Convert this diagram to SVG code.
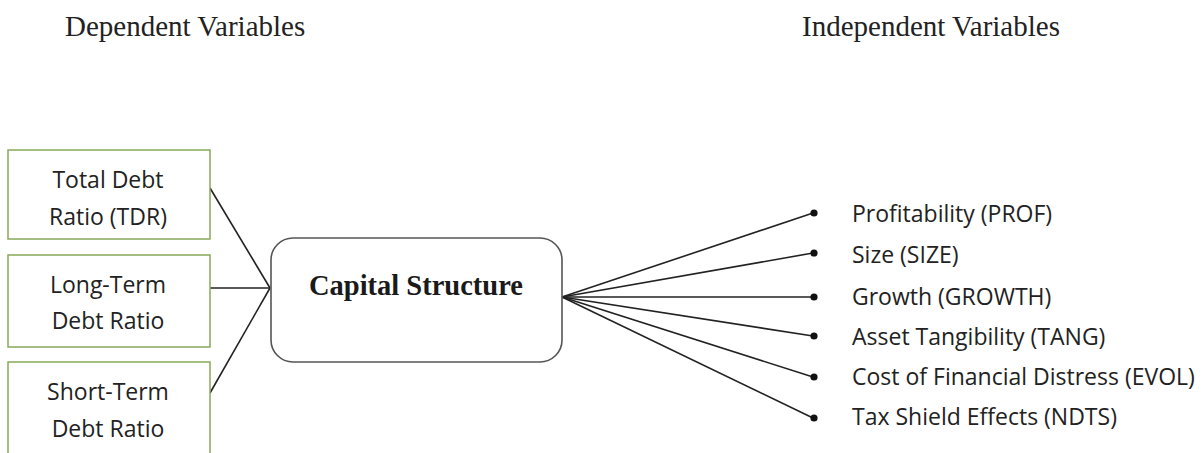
<svg xmlns="http://www.w3.org/2000/svg" width="1204" height="453" viewBox="0 0 1204 453">
<style>
.hdr{font-family:"Liberation Serif",serif;font-size:29px;fill:#222}
.box{fill:#fff;stroke:#86A95A;stroke-width:1.5}
.bt{font-family:"Open Sans","Noto Sans",sans-serif;font-size:23px;fill:#222;text-anchor:middle}
.lbl{font-family:"Open Sans","Noto Sans",sans-serif;font-size:23px;fill:#222}
.cs{fill:#fff;stroke:#555;stroke-width:1.6}
.cst{font-family:"Liberation Serif",serif;font-weight:bold;font-size:28.5px;fill:#1a1a1a;text-anchor:middle}
.ln{stroke:#222;stroke-width:1.6;fill:none}
.dot{fill:#111}
</style>
<rect width="1204" height="453" fill="#fff"/>
<text class="hdr" x="65" y="36">Dependent Variables</text>
<text class="hdr" x="802" y="36">Independent Variables</text>
<g id="connectors">
<line class="ln" x1="210" y1="188" x2="270" y2="288"/>
<line class="ln" x1="210" y1="288" x2="270" y2="288"/>
<line class="ln" x1="210" y1="393" x2="270" y2="288"/>
<line class="ln" x1="562" y1="297" x2="813" y2="213"/>
<line class="ln" x1="562" y1="297" x2="813" y2="253"/>
<line class="ln" x1="562" y1="297" x2="813" y2="297"/>
<line class="ln" x1="562" y1="297" x2="813" y2="336"/>
<line class="ln" x1="562" y1="297" x2="813" y2="377"/>
<line class="ln" x1="562" y1="297" x2="813" y2="418"/>
</g>
<g id="tdr"><rect class="box" x="8" y="150" width="202" height="89"/><text class="bt" x="108" y="188">Total Debt</text><text class="bt" x="108" y="225">Ratio (TDR)</text></g>
<g id="ltdr"><rect class="box" x="8" y="255" width="202" height="92"/><text class="bt" x="108" y="293">Long-Term</text><text class="bt" x="108" y="329">Debt Ratio</text></g>
<g id="stdr"><rect class="box" x="8" y="362" width="202" height="92"/><text class="bt" x="108" y="400">Short-Term</text><text class="bt" x="108" y="437">Debt Ratio</text></g>
<g id="capital"><rect class="cs" x="271" y="238" width="291" height="124" rx="22"/><text class="cst" x="416" y="295">Capital Structure</text></g>
<g id="prof"><circle class="dot" cx="814" cy="213" r="3.6"/><text class="lbl" x="852" y="222">Profitability (PROF)</text></g>
<g id="size"><circle class="dot" cx="814" cy="253" r="3.6"/><text class="lbl" x="852" y="263">Size (SIZE)</text></g>
<g id="growth"><circle class="dot" cx="814" cy="297" r="3.6"/><text class="lbl" x="852" y="305">Growth (GROWTH)</text></g>
<g id="tang"><circle class="dot" cx="814" cy="336" r="3.6"/><text class="lbl" x="852" y="345">Asset Tangibility (TANG)</text></g>
<g id="evol"><circle class="dot" cx="814" cy="377" r="3.6"/><text class="lbl" x="852" y="385">Cost of Financial Distress (EVOL)</text></g>
<g id="ndts"><circle class="dot" cx="814" cy="418" r="3.6"/><text class="lbl" x="852" y="425">Tax Shield Effects (NDTS)</text></g>
</svg>
